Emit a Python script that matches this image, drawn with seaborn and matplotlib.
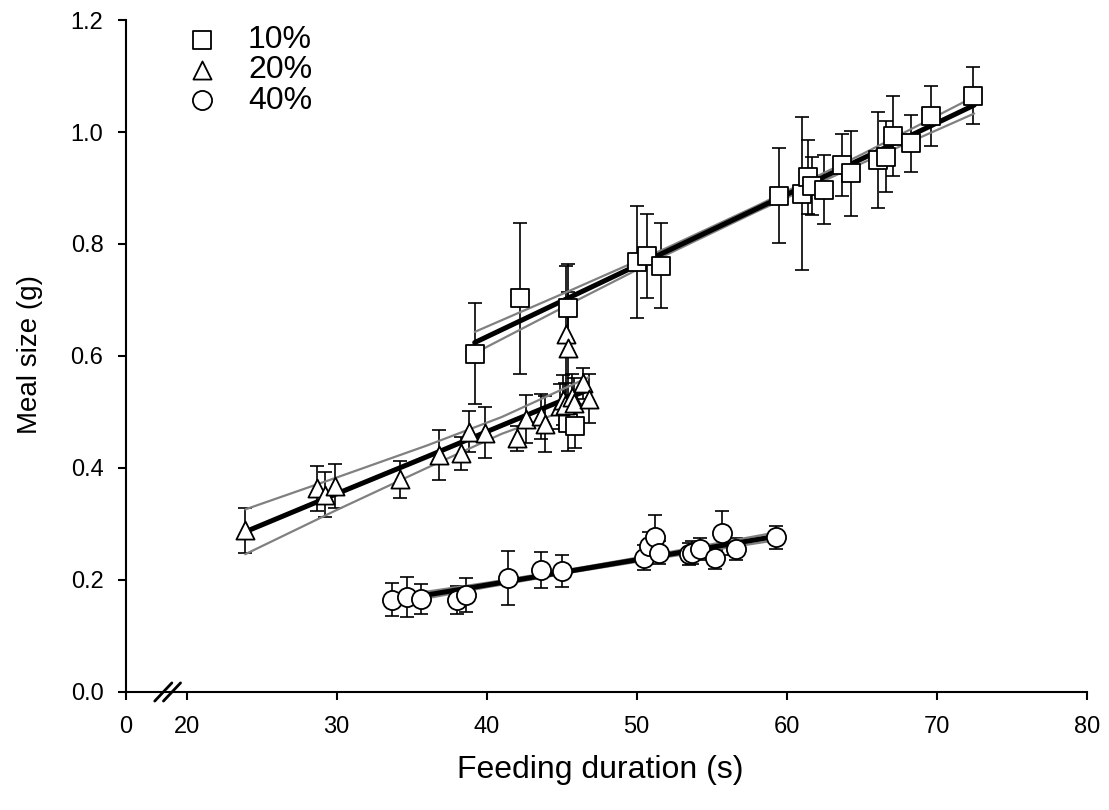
import numpy as np
import pandas as pd
import matplotlib
matplotlib.use("Agg")
import matplotlib.pyplot as plt
import matplotlib.transforms as mtransforms
import seaborn as sns

# 10% sucrose (squares)
sq_x = [39.2, 42.2, 45.4, 45.4, 45.9, 50.0, 50.7, 51.6, 59.5, 61.0, 61.4, 61.7,
        62.5, 63.7, 64.3, 66.1, 66.6, 67.1, 68.3, 69.6, 72.4]
sq_y = [0.604, 0.703, 0.685, 0.480, 0.475, 0.768, 0.779, 0.761, 0.886, 0.890, 0.920, 0.904,
        0.897, 0.941, 0.926, 0.950, 0.956, 0.993, 0.980, 1.029, 1.065]
sq_err = [0.090, 0.135, 0.080, 0.050, 0.040, 0.100, 0.075, 0.076, 0.085, 0.136, 0.066, 0.052,
          0.062, 0.055, 0.076, 0.085, 0.063, 0.072, 0.051, 0.054, 0.051]

# 20% sucrose (triangles)
tri_x = [23.9, 28.7, 29.2, 29.9, 34.2, 36.8, 38.3, 38.8, 39.9, 42.0, 42.6, 43.6, 43.9,
         44.9, 45.1, 45.2, 45.3, 45.4, 45.7, 45.8, 46.4, 46.8]
tri_y = [0.289, 0.364, 0.352, 0.368, 0.380, 0.423, 0.426, 0.465, 0.463, 0.453, 0.487, 0.492,
         0.478, 0.510, 0.521, 0.512, 0.640, 0.614, 0.527, 0.516, 0.551, 0.524]
tri_err = [0.040, 0.040, 0.040, 0.040, 0.033, 0.045, 0.030, 0.037, 0.046, 0.022, 0.043, 0.040,
           0.050, 0.040, 0.045, 0.040, 0.120, 0.100, 0.040, 0.045, 0.027, 0.043]

# 40% sucrose (circles)
circ_x = [33.7, 34.7, 35.6, 38.0, 38.6, 41.4, 43.6, 45.0, 50.5, 50.8, 51.2, 51.5,
          53.5, 53.7, 54.2, 55.2, 55.7, 56.6, 59.3]
circ_y = [0.165, 0.170, 0.166, 0.165, 0.173, 0.203, 0.218, 0.216, 0.240, 0.261, 0.276, 0.249,
          0.246, 0.249, 0.255, 0.240, 0.284, 0.255, 0.276]
circ_err = [0.030, 0.036, 0.027, 0.025, 0.031, 0.048, 0.032, 0.029, 0.022, 0.025, 0.040, 0.020,
            0.020, 0.020, 0.020, 0.020, 0.040, 0.020, 0.020]

# regression lines and 95% confidence limits
fit10_x = [39.2, 45.4, 52.0, 58.0, 65.0, 72.5]
fit10_y = [0.624, 0.703, 0.787, 0.863, 0.952, 1.048]
fit10_hw = [0.019, 0.012, 0.006, 0.005, 0.008, 0.015]

fit20_x = [23.9, 30.0, 36.0, 41.0, 46.8]
fit20_y = [0.286, 0.354, 0.420, 0.476, 0.540]
fit20_hw = [0.040, 0.029, 0.020, 0.015, 0.022]

fit40_x = [33.7, 40.0, 46.0, 52.0, 59.3]
fit40_y = [0.163, 0.191, 0.218, 0.245, 0.278]
fit40_hw = [0.007, 0.004, 0.003, 0.004, 0.007]

labels = ["10%", "20%", "40%"]
x_ticks = [20, 30, 40, 50, 60, 70, 80]
y_ticks = [0.0, 0.2, 0.4, 0.6, 0.8, 1.0, 1.2]

# x axis is broken between 0 and 20: "0" sits at this position
x_zero_pos = 15.93

sns.set_style("ticks")
plt.rcParams['font.family'] = ['Liberation Sans', 'DejaVu Sans']
plt.rcParams['text.color'] = 'black'
plt.rcParams['axes.labelcolor'] = 'black'
plt.rcParams['xtick.color'] = 'black'
plt.rcParams['ytick.color'] = 'black'

fig = plt.figure(figsize=(11.09, 8.10), dpi=100)
ax = fig.add_axes([0.1133, 0.1457, 0.8666, 0.8296])

groups = [
    (sq_x, sq_y, sq_err, "s", 155, fit10_x, fit10_y, fit10_hw),
    (tri_x, tri_y, tri_err, "^", 170, fit20_x, fit20_y, fit20_hw),
    (circ_x, circ_y, circ_err, "o", 190, fit40_x, fit40_y, fit40_hw),
]

for (gx, gy, ge, mk, sz, fx, fy, fhw), lab in zip(groups, labels):
    ax.errorbar(gx, gy, yerr=ge, fmt="none", ecolor="black", elinewidth=1.2,
                capsize=4.8, capthick=1.2, zorder=2)
    fy = np.array(fy)
    fhw = np.array(fhw)
    sns.lineplot(x=fx, y=fy + fhw, color="#808080", linewidth=1.6, ax=ax, zorder=3)
    sns.lineplot(x=fx, y=fy - fhw, color="#808080", linewidth=1.6, ax=ax, zorder=3)
    sns.lineplot(x=fx, y=fy, color="black", linewidth=3.6, ax=ax, zorder=3)
    sns.scatterplot(x=gx, y=gy, marker=mk, s=sz, color="white", edgecolor="black",
                    linewidth=1.3, ax=ax, zorder=4, label=lab)

ax.set_xlim(x_zero_pos, 80)
ax.set_ylim(0, 1.2)
ax.set_xticks([x_zero_pos] + x_ticks)
ax.set_xticklabels(["0"] + [str(t) for t in x_ticks])
ax.set_yticks(y_ticks)
ax.set_yticklabels([f"{t:.1f}" for t in y_ticks])

for side in ["top", "right"]:
    ax.spines[side].set_visible(False)
for side in ["left", "bottom"]:
    ax.spines[side].set_linewidth(1.5)
    ax.spines[side].set_color("black")
ax.tick_params(axis="both", direction="out", length=6, width=1.5, color="black",
               labelcolor="black", labelsize=17)
ax.tick_params(axis="x", pad=11)
ax.tick_params(axis="y", pad=10)

# axis break marks
trans = mtransforms.blended_transform_factory(ax.transData, ax.transAxes)
for cx in [18.44, 19.02]:
    ax.plot([cx - 0.57, cx + 0.57], [-0.0135, 0.0135], color="black", lw=2,
            transform=trans, clip_on=False, zorder=5)

ax.set_xlabel("Feeding duration (s)", fontsize=23, va="center")
ax.set_ylabel("Meal size (g)", fontsize=20, va="center")
ax.xaxis.set_label_coords(0.4935, -0.116)
ax.yaxis.set_label_coords(-0.0996, 0.5015)

leg = ax.legend(loc="upper left", bbox_to_anchor=(0.162, 0.969),
                bbox_transform=fig.transFigure, frameon=False, fontsize=23,
                borderpad=0, borderaxespad=0, handlelength=1.4,
                handletextpad=0.74, labelspacing=0.01)

fig.savefig("out.png", dpi=100)
